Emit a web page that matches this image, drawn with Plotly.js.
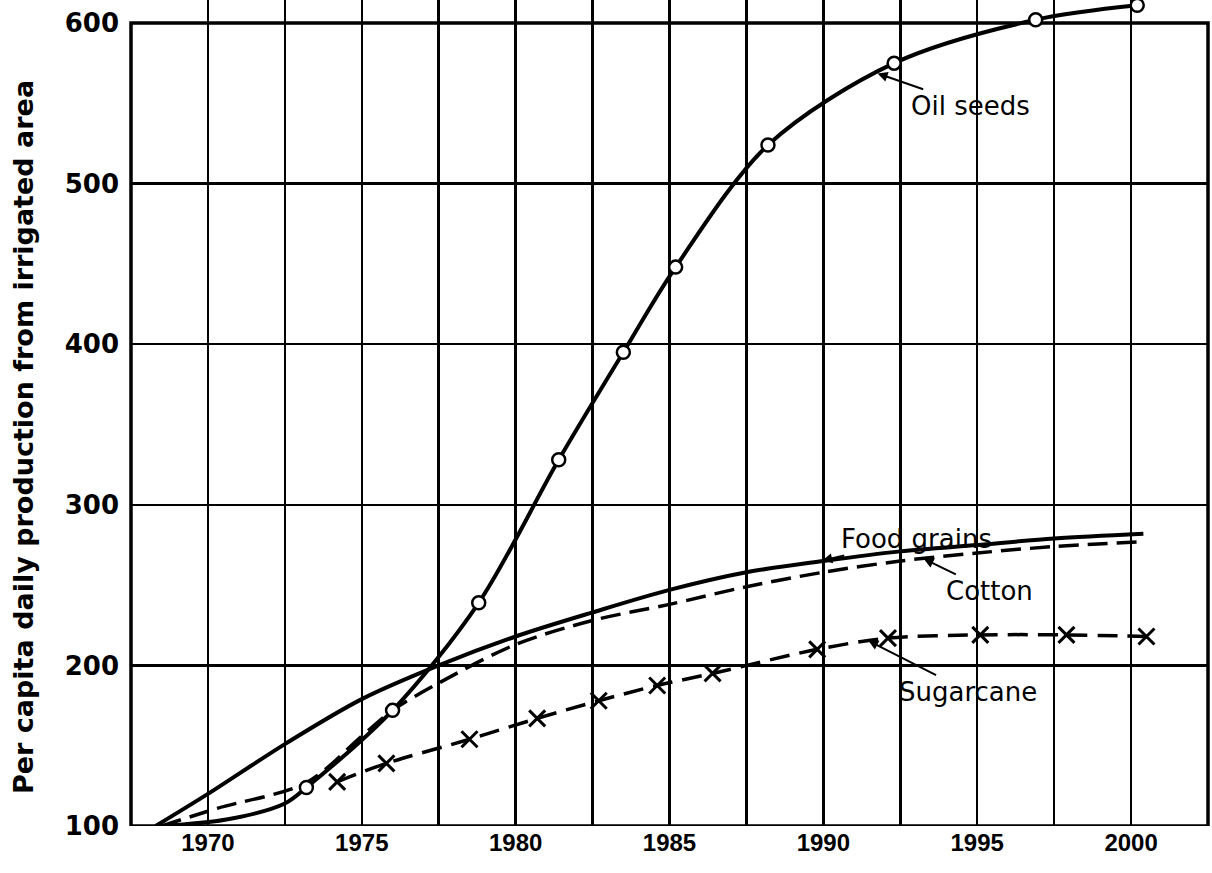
<!DOCTYPE html>
<html>
<head>
<meta charset="utf-8">
<script src="https://cdn.plot.ly/plotly-3.0.1.min.js"></script>
<style>
  html, body { margin: 0; padding: 0; background: #ffffff; }
  #chart { width: 1212px; height: 873px; }
</style>
</head>
<body>
<div id="chart"></div>
<script>
// ---- Data ----
const baseYear = 1968.5;
const baseValue = 100;

// Oil seeds: drawn curve lead-in points (no marker) and marked points
const oilseedLeadYears  = [1970.6, 1972.5];
const oilseedLeadValues = [104, 114];
const oilseedYears  = [1973.2, 1976.0, 1978.8, 1981.4, 1983.5, 1985.2, 1988.2, 1992.3, 1996.9, 2000.2];
const oilseedValues = [124, 172, 239, 328, 395, 448, 524, 575, 602, 611];

// Food grains (solid line, no markers)
const foodYears  = [1968.3, 1970, 1972.5, 1975, 1977.5, 1980, 1982.5, 1985, 1987.5, 1990, 1992.5, 1995, 1997.5, 2000.4];
const foodValues = [100, 120, 151, 179, 200, 218, 233, 247, 258, 265, 271, 275, 279, 282];

// Cotton (dashed line, no markers)
const cottonYears  = [1968.5, 1970.3, 1973.2, 1975, 1976, 1977.5, 1980, 1982.5, 1985, 1987.5, 1990, 1992.5, 1995, 1997.5, 2000.4];
const cottonValues = [100, 111, 127, 156, 172, 189, 213, 228, 238, 249, 258, 265, 270, 274, 277];

// Sugarcane (dashed line with x markers)
const sugarYears  = [1974.2, 1975.8, 1978.5, 1980.7, 1982.7, 1984.6, 1986.4, 1989.8, 1992.1, 1995.1, 1997.9, 2000.5];
const sugarValues = [127.5, 139, 154, 167, 178, 187.5, 195, 210, 217, 219, 219, 218];

// Axis ticks
const xTickVals  = [1970, 1975, 1980, 1985, 1990, 1995, 2000];
const xTickText  = ['1970', '1975', '1980', '1985', '1990', '1995', '2000'];
const yTickVals  = [100, 200, 300, 400, 500, 600];
const yTickText  = ['100', '200', '300', '400', '500', '600'];

const yTitle = 'Per capita daily production from irrigated area';

// Curve labels: text, and the point on the curve the arrow points to
const labelText  = ['Oil seeds', 'Food grains', 'Cotton', 'Sugarcane'];
const labelYear  = [1991.7, 1989.9, 1993.2, 1991.4];
const labelValue = [569, 265, 267, 216];

// ---- Geometry ----
const W = 1212, H = 873;
const M = { l: 131, r: 4, t: 0, b: 47 };
const plotW = W - M.l - M.r;
const plotH = H - M.t - M.b;               // 826 px
const topPx = 23;                           // pixel row of the 600 line
const yMin = 100, yMax = 600;
const yTop = yMax + topPx * (yMax - yMin) / (plotH - topPx);  // headroom above 600
const xMin = 1967.5, xMax = 2002.5;

// ---- Traces ----
const black = '#000000';
const traces = [
  {
    x: [baseYear].concat(oilseedLeadYears, oilseedYears),
    y: [baseValue].concat(oilseedLeadValues, oilseedValues),
    mode: 'lines', name: 'Oil seeds',
    line: { color: black, width: 4, shape: 'spline', smoothing: 0.9 }
  },
  {
    x: foodYears, y: foodValues, mode: 'lines', name: 'Food grains',
    line: { color: black, width: 4, shape: 'spline', smoothing: 0.9 }
  },
  {
    x: cottonYears, y: cottonValues, mode: 'lines', name: 'Cotton',
    line: { color: black, width: 3.5, dash: '20px,9px', shape: 'spline', smoothing: 0.9 }
  },
  {
    x: sugarYears, y: sugarValues, mode: 'lines+markers', name: 'Sugarcane',
    line: { color: black, width: 3.5, dash: '20px,10px', shape: 'spline', smoothing: 0.9 },
    marker: { symbol: 'x-thin', size: 16, color: black, line: { color: black, width: 3 } }
  },
  {
    x: oilseedYears, y: oilseedValues, mode: 'markers', name: 'Oil seeds points', cliponaxis: false,
    marker: { symbol: 'circle', size: 13, color: '#ffffff', line: { color: black, width: 2.5 } }
  }
];

// ---- Annotations (curve labels with arrows) ----
const offX = [95, 96, 68, 102];
const offY = [33, -22, 33, 52];
const annotations = labelText.map((t, i) => ({
  x: labelYear[i], y: labelValue[i], xref: 'x', yref: 'y',
  text: t, showarrow: true, arrowhead: 2, arrowsize: 1, arrowwidth: 2, arrowcolor: black,
  ax: offX[i], ay: offY[i], standoff: 2,
  font: { family: 'DejaVu Sans, sans-serif', size: 26, color: black }
}));

// Y-axis title, placed as in the reference (rotated text left of the tick labels)
annotations.push({
  text: yTitle, textangle: -90, showarrow: false,
  xref: 'paper', yref: 'paper',
  x: (23 - M.l) / plotW, y: (plotH - 437) / plotH,
  xanchor: 'center', yanchor: 'middle',
  font: { family: 'DejaVu Sans, sans-serif', size: 27, color: black, weight: 'bold' }
});

// ---- Shapes: hide grid above the 600 line, and draw the frame ----
const shapes = [
  { type: 'rect', xref: 'paper', yref: 'y', x0: -0.01, x1: 1.01, y0: yMax, y1: yTop + 5,
    fillcolor: '#ffffff', line: { width: 0 }, layer: 'between' },
  { type: 'rect', xref: 'paper', yref: 'y', x0: 0, x1: 1, y0: yMin, y1: yMax,
    fillcolor: 'rgba(0,0,0,0)', line: { color: black, width: 3.5 }, layer: 'between' }
];

const layout = {
  width: W, height: H,
  margin: M,
  paper_bgcolor: '#ffffff', plot_bgcolor: '#ffffff',
  showlegend: false,
  xaxis: {
    range: [xMin, xMax],
    tickmode: 'array', tickvals: xTickVals, ticktext: xTickText,
    ticks: '', ticklabelstandoff: 0,
    showgrid: true, gridcolor: black, gridwidth: 2.5,
    minor: { tick0: xMin, dtick: 2.5, showgrid: true, gridcolor: black, gridwidth: 2.5, ticks: '' },
    showline: false, zeroline: false,
    tickfont: { family: 'Liberation Sans, Arial, sans-serif', size: 24, color: black, weight: 'bold' }
  },
  yaxis: {
    range: [yMin, yTop],
    tickmode: 'array', tickvals: yTickVals, ticktext: yTickText,
    ticks: '', ticklabelstandoff: 11,
    showgrid: true, gridcolor: black, gridwidth: 2.5,
    showline: false, zeroline: false,
    tickfont: { family: 'DejaVu Sans, sans-serif', size: 26, color: black, weight: 'bold' }
  },
  shapes: shapes,
  annotations: annotations
};

Plotly.newPlot('chart', traces, layout, { displayModeBar: false, staticPlot: true });
</script>
</body>
</html>
